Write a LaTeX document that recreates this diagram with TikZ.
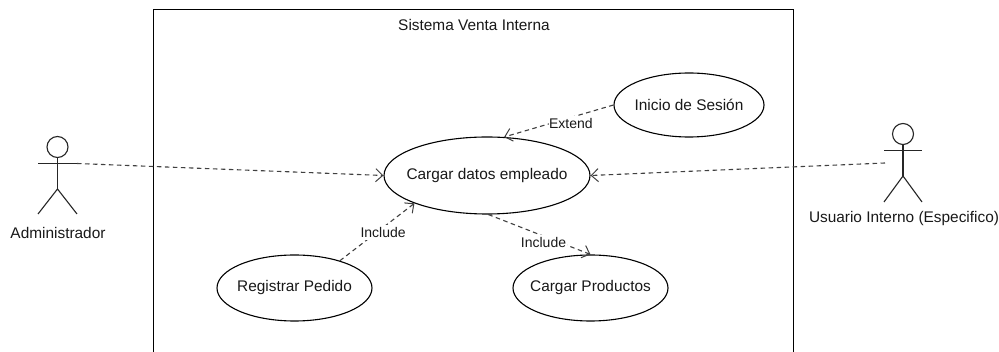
\documentclass[tikz,border=0pt]{standalone}
\usepackage{fontspec}
\setmainfont{Liberation Sans}
\usetikzlibrary{arrows.meta,shapes.geometric}
\newcommand{\uctext}[1]{\makebox[0pt][c]{#1}}
\tikzset{
  usecase/.style={draw,ellipse,line width=1.1pt,inner sep=0pt,font=\fontsize{15.4}{18}\selectfont,text=black!90},
  sysline/.style={draw,line width=1.2pt},
  actorline/.style={draw,line width=1.1pt,black!85},
  dep/.style={draw,line width=1.1pt,black!75,dash pattern=on 4.5pt off 3.5pt,-{Straight Barb[length=7pt,width=13pt,line width=1pt]}},
  deplabel/.style={fill=white,inner xsep=0.5pt,inner ysep=2pt,font=\fontsize{14}{16}\selectfont,text=black!90},
  plainlabel/.style={inner sep=0pt,font=\fontsize{15.4}{18}\selectfont,text=black!90}
}
\begin{document}
\begin{tikzpicture}[x=1pt,y=-1pt]
\useasboundingbox[fill=white] (0,0) rectangle (999,352);
% system boundary
\coordinate (sysBL) at (153.5,352);
\coordinate (sysTL) at (153.5,9.5);
\coordinate (sysTR) at (793.5,9.5);
\coordinate (sysBR) at (793.5,352);
\draw[sysline] (sysBL) -- (sysTL) -- (sysTR) -- (sysBR);
\node[plainlabel] (systitle) at (474,25) {Sistema Venta Interna};
% use cases
\node[usecase,minimum width=206pt,minimum height=77pt] (cargar) at (487,175.5) {\uctext{Cargar datos empleado}};
\node[usecase,minimum width=150pt,minimum height=64pt] (inicio) at (689,105) {\uctext{Inicio de Sesión}};
\node[usecase,minimum width=155pt,minimum height=66pt] (registrar) at (294.5,288) {\uctext{Registrar Pedido}};
\node[usecase,minimum width=155pt,minimum height=66pt] (productos) at (590.5,288) {\uctext{Cargar Productos}};
% left actor
\node[draw,circle,line width=1.1pt,black!85,minimum size=21pt,inner sep=0pt] (adminhead) at (57.5,147) {};
\coordinate (adminL) at (38,163.5);
\coordinate (adminR) at (77,163.5);
\coordinate (adminHip) at (57.5,189);
\coordinate (adminFL) at (38,214);
\coordinate (adminFR) at (77,214);
\draw[actorline] (adminhead.south) -- (adminHip);
\draw[actorline] (adminL) -- (adminR);
\draw[actorline] (adminFL) -- (adminHip) -- (adminFR);
\node[plainlabel] (adminlabel) at (58,233) {Administrador};
% right actor
\node[draw,circle,line width=1.1pt,black!85,minimum size=21pt,inner sep=0pt] (userhead) at (903,134) {};
\coordinate (userL) at (884,150.5);
\coordinate (userR) at (922,150.5);
\coordinate (userHip) at (903,176);
\coordinate (userFL) at (884,202);
\coordinate (userFR) at (922,202);
\coordinate (userLink) at (885,163);
\draw[actorline] (userhead.south) -- (userHip);
\draw[actorline] (userL) -- (userR);
\draw[actorline] (userFL) -- (userHip) -- (userFR);
\node[plainlabel] (userlabel) at (904,219) {Usuario Interno (Especifico)};
% connectors
\draw[dep] (adminR) -- (cargar.west);
\draw[dep] (userLink) -- (cargar.east);
\draw[dep] (inicio.west) -- node[deplabel,pos=0.39,yshift=-6pt] (extendlabel) {Extend} (cargar.66);
\draw[dep] (registrar.31) -- node[deplabel,pos=0.58,yshift=-5pt] (includeA) {Include} (cargar.201);
\draw[dep] (cargar.272) -- node[deplabel,pos=0.54,yshift=-6pt] (includeB) {Include} (productos.north);
\end{tikzpicture}
\end{document}
